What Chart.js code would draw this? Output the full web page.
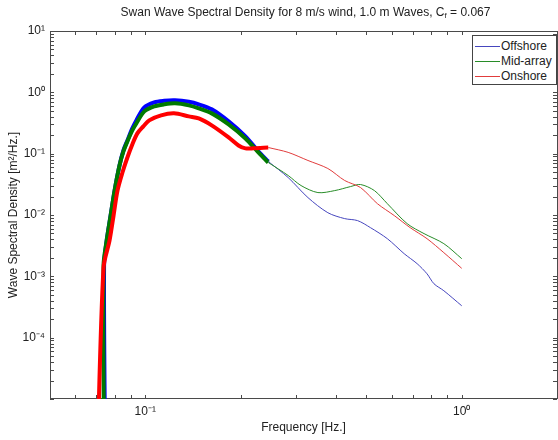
<!DOCTYPE html>
<html>
<head>
<meta charset="utf-8">
<script src="https://cdn.jsdelivr.net/npm/chart.js@4.4.1/dist/chart.umd.min.js"></script>
<style>
  html, body { margin: 0; padding: 0; background: #fff; overflow: hidden; }
  #wrap { position: relative; width: 562px; height: 440px; }
  #chart { position: absolute; left: 0; top: 0; }
  #title { position: absolute; top: 5px; left: 50px; width: 511px; text-align: center;
           font: 12px "Liberation Sans", Arial, sans-serif; color: #222; white-space: nowrap; }
  #title sub { font-size: 8px; vertical-align: -2px; line-height: 0; }
  #legend { position: absolute; left: 472px; top: 35px; width: 85px; height: 50px; box-sizing: border-box;
            border: 1px solid #444; background: #fff; font: 12px "Liberation Sans", Arial, sans-serif; color: #222; }
  .item { position: absolute; left: 2px; height: 14px; line-height: 14px; white-space: nowrap; }
  .item i { display: inline-block; width: 25px; height: 0; border-top: 1px solid; vertical-align: middle; margin-right: 1px; }
</style>
</head>
<body>
<div id="wrap">
  <canvas id="chart" width="562" height="440"></canvas>
  <div id="title">Swan Wave Spectral Density for 8 m/s wind, 1.0 m Waves, C<sub>f</sub> = 0.067</div>
  <div id="legend">
    <div class="item" style="top:3px"><i style="border-color:rgb(70,70,190)"></i>Offshore</div>
    <div class="item" style="top:18px"><i style="border-color:rgb(40,140,40)"></i>Mid-array</div>
    <div class="item" style="top:33px"><i style="border-color:rgb(225,60,60)"></i>Onshore</div>
  </div>
</div>
<script>
// Offshore spectrum (thick = resolved band, thin = tail)
const offshoreThickFreq = [0.0747, 0.0741, 0.0755, 0.0777, 0.0800, 0.0829, 0.0853, 0.0878, 0.0910, 0.0937, 0.0993, 0.1067, 0.1147, 0.1242, 0.1373, 0.1476, 0.1622, 0.1834, 0.2073, 0.2277, 0.2447];
const offshoreThickDensity = [1e-6, 1.49e-3, 3.82e-3, 9.78e-3, 0.025, 0.0641, 0.113, 0.164, 0.258, 0.349, 0.569, 0.687, 0.727, 0.740, 0.700, 0.637, 0.528, 0.336, 0.191, 0.109, 0.0746];
const offshoreTailFreq = [0.2447, 0.2828, 0.3267, 0.3775, 0.4267, 0.4687, 0.5147, 0.5820, 0.6578, 0.7226, 0.7768, 0.8170, 0.8780, 1.0];
const offshoreTailDensity = [0.0746, 0.0408, 0.0192, 0.0109, 0.00873, 0.0081, 0.00622, 0.00411, 0.00234, 0.00161, 0.0011, 0.000757, 0.000582, 0.000331];

// Mid-array spectrum
const midThickFreq = [0.0741, 0.0738, 0.0755, 0.0777, 0.0800, 0.0829, 0.0853, 0.0878, 0.0910, 0.0937, 0.0993, 0.1067, 0.1147, 0.1242, 0.1373, 0.1476, 0.1622, 0.1834, 0.2073, 0.2277, 0.2447];
const midThickDensity = [1e-6, 1.49e-3, 3.82e-3, 9.78e-3, 0.025, 0.0641, 0.1086, 0.1583, 0.239, 0.311, 0.489, 0.591, 0.637, 0.661, 0.613, 0.548, 0.454, 0.300, 0.177, 0.105, 0.0718];
const midTailFreq = [0.2447, 0.2828, 0.3106, 0.3512, 0.3970, 0.4456, 0.4790, 0.5298, 0.5820, 0.6722, 0.7601, 0.8780, 1.0];
const midTailDensity = [0.0718, 0.0441, 0.0302, 0.0232, 0.025, 0.0291, 0.0314, 0.025, 0.0153, 0.00723, 0.00497, 0.00341, 0.00194];

// Onshore spectrum
const onshoreThickFreq = [0.0705, 0.0738, 0.0771, 0.0794, 0.0817, 0.0847, 0.0878, 0.0910, 0.0944, 0.0986, 0.1029, 0.1122, 0.1233, 0.1373, 0.1476, 0.1622, 0.1834, 0.1971, 0.2073, 0.2196, 0.2447];
const onshoreThickDensity = [1e-6, 1.38e-3, 3.82e-3, 9.78e-3, 0.025, 0.0493, 0.0867, 0.1413, 0.214, 0.278, 0.349, 0.421, 0.454, 0.405, 0.376, 0.289, 0.184, 0.136, 0.122, 0.122, 0.126];
const onshoreTailFreq = [0.2447, 0.2828, 0.3267, 0.3775, 0.4267, 0.4790, 0.5414, 0.6121, 0.6871, 0.7768, 0.8780, 1.0];
const onshoreTailDensity = [0.126, 0.105, 0.0774, 0.0573, 0.0365, 0.028, 0.0153, 0.00978, 0.00622, 0.00411, 0.00243, 0.00135];

// Axis ticks
const xTickValues = [0.05, 0.06, 0.07, 0.08, 0.09, 0.1, 0.2, 0.3, 0.4, 0.5, 0.6, 0.7, 0.8, 0.9, 1, 2];
const xMajorTicks = [0.1, 1];
const xMajorLabels = ['10\u207B\u00B9', '10\u2070'];
const yDecades = [1e-5, 1e-4, 1e-3, 1e-2, 1e-1, 1];
const yMajorTicks = [1e-4, 1e-3, 1e-2, 1e-1, 1, 10];
const yMajorLabels = ['10\u207B\u2074', '10\u207B\u00B3', '10\u207B\u00B2', '10\u207B\u00B9', '10\u2070', '10\u00B9'];

const font = { family: '"Liberation Sans", Arial, sans-serif', size: 12 };

function pts(xs, ys) {
    return xs.map((v, i) => ({ x: v, y: ys[i] }));
}

function labelFor(value, majors, labels) {
    const i = majors.findIndex(m => Math.abs(Math.log10(m) - Math.log10(value)) < 1e-6);
    return i >= 0 ? labels[i] : '';
}

// y ticks: every 1..9 multiple inside each decade
const yTickValues = [];
yDecades.forEach(d => {
    for (let k = 1; k <= 9; k++) yTickValues.push(d * k);
});
yTickValues.push(10);

// Frame and inward tick marks, like a boxed axes
const frameTicks = {
    id: 'frameTicks',
    beforeDatasetsDraw(chart) {
        const { ctx, chartArea: a, scales: { x, y } } = chart;
        ctx.save();
        ctx.strokeStyle = '#4a4a4a';
        ctx.lineWidth = 1;
        ctx.strokeRect(Math.round(a.left) + 0.5, Math.round(a.top) + 0.5,
            Math.round(a.right - a.left), Math.round(a.bottom - a.top) - 1);
        ctx.beginPath();
        x.ticks.forEach(t => {
            const px = Math.round(x.getPixelForValue(t.value)) + 0.5;
            ctx.moveTo(px, a.bottom); ctx.lineTo(px, a.bottom - 4);
            ctx.moveTo(px, a.top); ctx.lineTo(px, a.top + 4);
        });
        y.ticks.forEach(t => {
            const py = Math.round(y.getPixelForValue(t.value)) + 0.5;
            ctx.moveTo(a.left, py); ctx.lineTo(a.left + 4, py);
            ctx.moveTo(a.right, py); ctx.lineTo(a.right - 4, py);
        });
        ctx.stroke();
        ctx.restore();
    }
};

const thick = { borderWidth: 4, pointRadius: 0, tension: 0.3, fill: false };
const thin = { borderWidth: 1, pointRadius: 0, tension: 0.3, fill: false };

new Chart(document.getElementById('chart'), {
    type: 'line',
    data: {
        datasets: [
            { label: 'Offshore', data: pts(offshoreThickFreq, offshoreThickDensity), borderColor: '#0000ff', order: 6, ...thick },
            { label: 'Mid-array', data: pts(midThickFreq, midThickDensity), borderColor: '#007a00', order: 5, ...thick },
            { label: 'Onshore', data: pts(onshoreThickFreq, onshoreThickDensity), borderColor: '#ff0000', order: 4, ...thick },
            { label: 'Offshore tail', data: pts(offshoreTailFreq, offshoreTailDensity), borderColor: 'rgb(70,70,190)', order: 3, ...thin },
            { label: 'Mid-array tail', data: pts(midTailFreq, midTailDensity), borderColor: 'rgb(40,140,40)', order: 2, ...thin },
            { label: 'Onshore tail', data: pts(onshoreTailFreq, onshoreTailDensity), borderColor: 'rgb(225,60,60)', order: 1, ...thin }
        ]
    },
    options: {
        responsive: false,
        animation: false,
        devicePixelRatio: 1,
        layout: { padding: { top: 31, right: 1, left: 0, bottom: 0 } },
        plugins: { legend: { display: false }, tooltip: { enabled: false }, title: { display: false } },
        scales: {
            x: {
                type: 'logarithmic',
                min: 0.05,
                max: 2,
                afterBuildTicks: s => { s.ticks = xTickValues.map(v => ({ value: v })); },
                afterFit: s => { s.height = 41; },
                ticks: {
                    autoSkip: false, maxRotation: 0, padding: 5, color: '#222', font,
                    callback: v => labelFor(v, xMajorTicks, xMajorLabels)
                },
                grid: { display: false, drawTicks: false },
                border: { display: false },
                title: { display: true, text: 'Frequency [Hz.]', color: '#222', font, padding: { top: 0, bottom: 5 } }
            },
            y: {
                type: 'logarithmic',
                min: 1e-5,
                max: 10,
                afterBuildTicks: s => { s.ticks = yTickValues.map(v => ({ value: v })); },
                afterFit: s => { s.width = 50; },
                ticks: {
                    autoSkip: false, padding: 5, color: '#222', font,
                    callback: v => labelFor(v, yMajorTicks, yMajorLabels)
                },
                grid: { display: false, drawTicks: false },
                border: { display: false },
                title: { display: true, text: 'Wave Spectral Density [m\u00B2/Hz.]', color: '#222', font, padding: { top: 6, bottom: 0 } }
            }
        }
    },
    plugins: [frameTicks]
});
</script>
</body>
</html>
